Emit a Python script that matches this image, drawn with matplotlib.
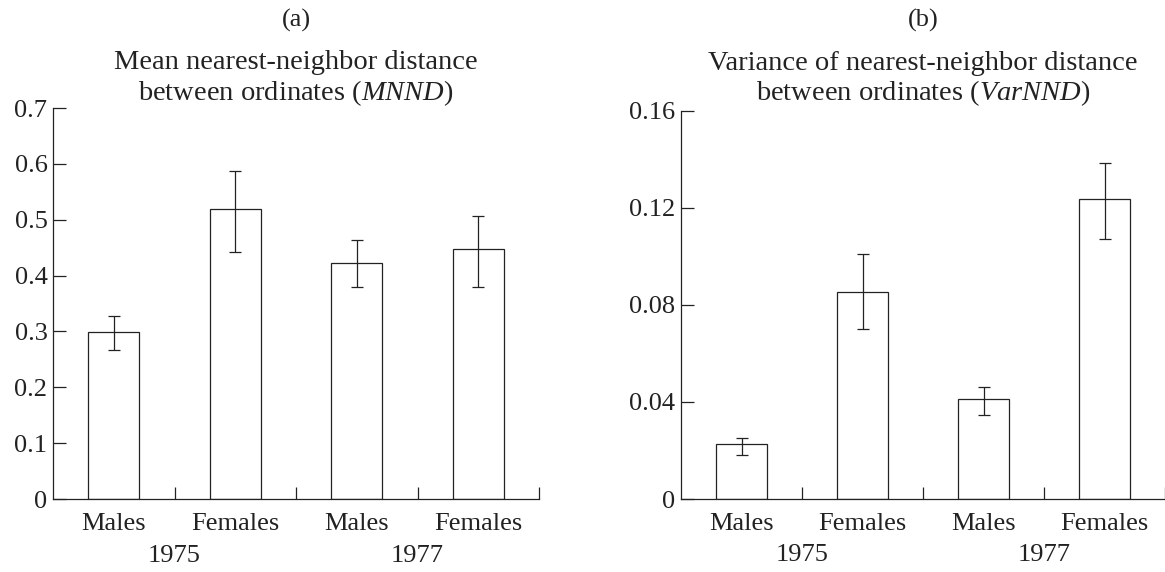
import matplotlib
matplotlib.use("Agg")
import matplotlib.pyplot as plt
import numpy as np

plt.rcParams['font.family'] = ['Liberation Serif', 'DejaVu Serif']
plt.rcParams['mathtext.fontset'] = 'custom'
plt.rcParams['mathtext.it'] = 'Liberation Serif:italic'
plt.rcParams['mathtext.rm'] = 'Liberation Serif'

groups = ["Males", "Females", "Males", "Females"]
years = ["1975", "1977"]

# (a) MNND
mnnd = [0.299, 0.519, 0.423, 0.447]
mnnd_lo = [0.266, 0.442, 0.380, 0.380]
mnnd_hi = [0.328, 0.587, 0.463, 0.506]
# (b) VarNND
varnnd = [0.0227, 0.0853, 0.0413, 0.1237]
varnnd_lo = [0.0183, 0.0700, 0.0347, 0.1073]
varnnd_hi = [0.0251, 0.1008, 0.0460, 0.1383]

ink = "#222222"
fs = 19

fig = plt.figure(figsize=(11.65, 5.72), dpi=100)
ax1 = fig.add_axes([53/1165, 1-499/572, 486/1165, 391/572])
ax2 = fig.add_axes([681/1165, 1-499/572, 484/1165, 388.3/572])

panels = [
    (ax1, mnnd, mnnd_lo, mnnd_hi, 0.7, np.arange(0, 0.71, 0.1), "(a)", 5.8,
     "Mean nearest-neighbor distance\nbetween ordinates ($MNND$)"),
    (ax2, varnnd, varnnd_lo, varnnd_hi, 0.16, np.arange(0, 0.161, 0.04), "(b)", 7.7,
     "Variance of nearest-neighbor distance\nbetween ordinates ($VarNND$)"),
]

x = np.arange(1, 5)
for ax, v, lo, hi, top, yt, tag, tpad, title in panels:
    v = np.array(v)
    err = [v - np.array(lo), np.array(hi) - v]
    ax.bar(x, v, width=0.42, color="white", edgecolor=ink, linewidth=0.9)
    ax.errorbar(x, v, yerr=err, fmt="none", ecolor=ink, elinewidth=0.9,
                capsize=4, capthick=0.9)
    ax.set_xlim(0.5, 4.5)
    ax.set_ylim(0, top)
    ax.set_yticks(yt)
    ax.set_yticklabels(["0"] + ["%g" % t for t in yt[1:]])
    ax.set_xticks([1.5, 2.5, 3.5, 4.5])
    ax.set_xticklabels([])
    ax.set_xticks(x, minor=True)
    ax.set_xticklabels(groups, minor=True)
    ax.tick_params(axis="x", which="minor", length=0, pad=10, labelsize=fs,
                   colors=ink)
    ax.tick_params(axis="both", which="major", direction="in", length=9,
                   width=0.9, colors=ink, labelsize=fs)
    ax.tick_params(axis="y", pad=4)
    for s in ["top", "right"]:
        ax.spines[s].set_visible(False)
    for s in ["left", "bottom"]:
        ax.spines[s].set_color(ink)
        ax.spines[s].set_linewidth(0.9)
    for xi, yr in zip([1.5, 3.5], years):
        ax.text(xi, -0.145, yr, transform=ax.get_xaxis_transform(),
                ha="center", va="center", fontsize=fs, color=ink)
    ax.set_title(title, fontsize=20.5, color=ink, linespacing=1.12, pad=tpad)
    bb = ax.get_position()
    fig.text((bb.x0 + bb.x1) / 2, 1 - 20/572, tag, ha="center", va="center",
             fontsize=fs, color=ink)

fig.savefig("out.png", dpi=100)
